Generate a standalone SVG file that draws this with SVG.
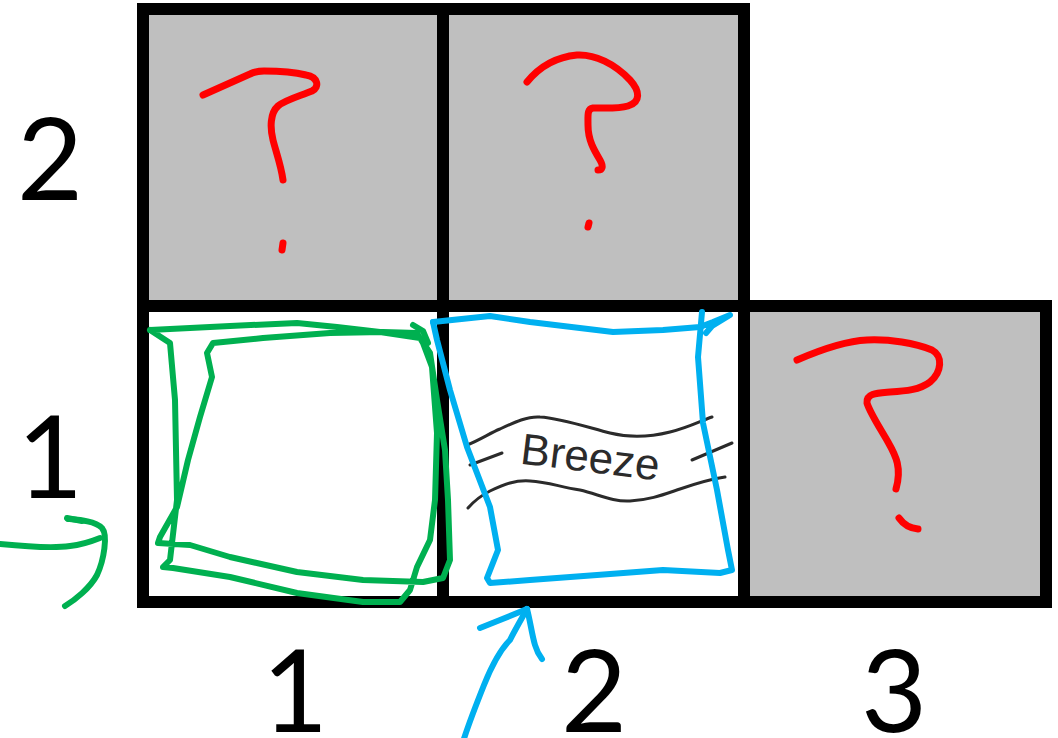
<svg xmlns="http://www.w3.org/2000/svg" width="1058" height="738" viewBox="0 0 1058 738">
<style>
.cell{stroke:#000;stroke-width:12;stroke-linejoin:miter}
.gray{fill:#bfbfbf}
.white{fill:#fff}
.q{fill:none;stroke:#ff0000;stroke-width:7;stroke-linecap:round;stroke-linejoin:round}
.g{fill:none;stroke:#00b050;stroke-width:6;stroke-linecap:round;stroke-linejoin:round}
.b{fill:none;stroke:#00b0f0;stroke-width:6;stroke-linecap:round;stroke-linejoin:round}
.w{fill:none;stroke:#2b2b2b;stroke-width:3;stroke-linecap:round}
.num{font-family:Lato,"Liberation Sans",sans-serif;font-size:114px;fill:#000;text-anchor:middle}
</style>
<rect width="1058" height="738" fill="#fff"/>
<g id="cell-1-2"><rect class="cell gray" x="143" y="9" width="300" height="297"/>
<path class="q" d="M203,95 L250,74 Q256,71 264,71 C280,71 298,73 306,75 C318,77 320,87 312,91 C300,96 285,100 278,106 C270,113 270,128 273,140 C276,152 281,165 283,180"/>
<path class="q" d="M283,243 L282,250"/></g>
<g id="cell-2-2"><rect class="cell gray" x="443" y="9" width="301" height="297"/>
<path class="q" d="M527,82 C540,66 556,57 577,55 C595,54 615,64 630,80 C640,91 641,102 628,106 C618,109 605,108 593,108 C587,109 588,115 588,125 C588,140 594,150 600,160 C604,167 602,170 598,170"/>
<path class="q" d="M589,223 L588,227"/></g>
<g id="cell-1-1"><rect class="cell white" x="143" y="306" width="300" height="296"/></g>
<g id="cell-2-1"><rect class="cell white" x="443" y="306" width="301" height="296"/>
<g id="breeze">
<path class="w" d="M467,445 C480,440 490,433 500,429 C515,422 528,416 540,417 C560,418 590,428 610,433 C630,438 650,437 670,432 C690,427 700,421 712,417"/>
<path class="w" d="M468,508 C475,500 482,495 490,491 C505,484 515,480 530,481 C548,482 560,487 580,490 C598,494 612,502 630,501 C650,500 665,494 680,489 C700,482 712,479 725,477"/>
<path class="w" d="M470,465 L502,453"/>
<path class="w" d="M692,460 L732,443"/>
<text x="590" y="472" transform="rotate(7 590 460)" font-family="'Liberation Sans',Arial,sans-serif" font-size="44" fill="#2b2b2b" text-anchor="middle">Breeze</text>
</g></g>
<g id="cell-3-1"><rect class="cell gray" x="744" y="306" width="302" height="296"/>
<path class="q" d="M797,360 C820,350 845,341 867,340 C890,339 915,343 932,350 C943,356 942,372 930,382 C920,390 905,391 890,392 C878,393 866,393 867,403 C870,413 880,428 888,442 C896,456 902,468 896,489"/>
<path class="q" d="M899,518 Q906,528 918,529"/></g>
<g id="labels">
<text class="num" x="50" y="200">2</text>
<text class="num" x="50" y="498">1</text>
<text class="num" x="295" y="732">1</text>
<text class="num" x="594" y="732">2</text>
<text class="num" x="894" y="732">3</text>
</g>
<g id="mark-green">
<path class="g" d="M150,330 L230,326 L297,323 L337,327 L380,332 L420,338 L430,353 L437,400 L445,450 L448,500 L450,560 L443,578 L423,582 L363,580 L297,572 L230,557 L190,545 L158,543 L160,537 L177,507 L188,460 L200,417 L212,377 L207,353 L213,343 L263,338 L330,333 L383,332 L417,333 L423,343 L432,367 L437,433 L435,500 L430,540 L417,567 L410,590 L400,602 L363,602 L297,593 L230,577 L173,568 L163,567 L170,560 L177,500 L175,400 L170,343 L150,330"/>
<path class="g" d="M413,325 L423,331 L428,343"/>
</g>
<g id="mark-blue">
<path class="b" d="M433,322 L490,316 L530,322 L613,332 L663,330 L700,327 L713,322 L730,315 L712,326 L706,333"/>
<path class="b" d="M702,312 L698,357 L703,423 L717,490 L728,550 L732,570 L720,573 L663,570 L597,575 L530,580 L490,583 L487,578 L498,550 L490,507 L467,447 L450,390 L437,340 L433,322"/>
</g>
<g id="connectors">
<path class="g" d="M0,544 C20,546 50,549 70,546 C80,545 90,542 100,538"/>
<path class="g" d="M68,519 C80,520 95,521 102,528 C108,535 104,560 97,575 C90,588 75,600 65,606"/>
<path class="g" stroke-width="11" d="M67,518 L82,521"/>
<path class="b" d="M462,745 C468,725 476,705 484,685 C492,665 500,650 510,640 C515,630 522,618 527,609"/>
<path class="b" d="M527,609 C530,620 532,635 535,645 C537,652 539,655 542,659"/>
<path class="b" stroke-width="11" d="M480,628 L500,620 L527,609"/>
</g>
</svg>
